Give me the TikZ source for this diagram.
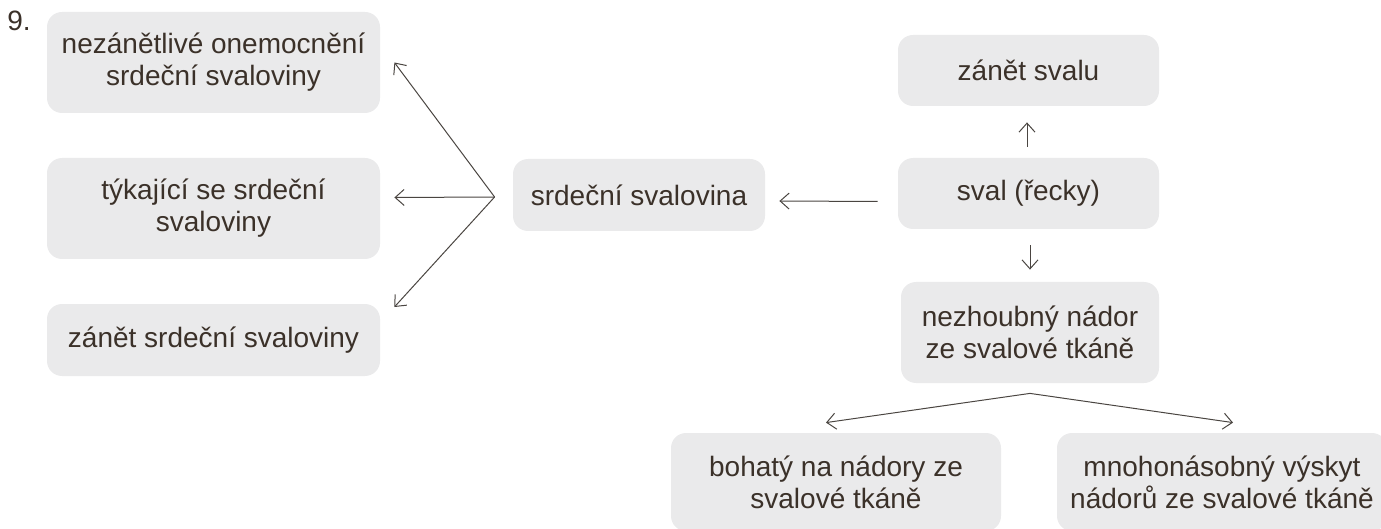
\documentclass[tikz,border=0pt]{standalone}
\usepackage{fontspec}
\setmainfont{Liberation Sans}
\usetikzlibrary{arrows.meta}
\definecolor{boxgray}{HTML}{EAEAEB}
\definecolor{inkbrown}{HTML}{3B3129}
\definecolor{arrowgray}{HTML}{4A4541}
\tikzset{
	x=0.5pt, y=-0.5pt,
	>={Straight Barb[length=4.5pt,width=8pt]}, % open thin heads
	term/.style={fill=boxgray, rounded corners=7.5pt, inner sep=0pt,
		align=center, text=inkbrown, font=\fontsize{14}{16}\selectfont},
	link/.style={->, draw=arrowgray, line width=0.5pt},
}
\begin{document}
\begin{tikzpicture}
	\useasboundingbox (0,0) rectangle (1381,529);
	\node[text=inkbrown, font=\fontsize{14}{16}\selectfont] (num) at (19,21) {9.};

	% left column
	\node[term, minimum width=166.5pt, minimum height=50.5pt] (a1) at (213.5,62.5) {nezánětlivé onemocnění\\srdeční svaloviny};
	\node[term, minimum width=166.5pt, minimum height=50.5pt] (a2) at (213.5,208.5) {týkající se srdeční\\svaloviny};
	\node[term, minimum width=166.5pt, minimum height=36pt] (a3) at (213.5,340) {zánět srdeční svaloviny};

	% middle and right
	\node[term, minimum width=126pt, minimum height=36pt] (b) at (639,195) {srdeční svalovina};
	\node[term, minimum width=130.5pt, minimum height=35.5pt] (c) at (1028.5,70.5) {zánět svalu};
	\node[term, minimum width=130.5pt, minimum height=35.5pt] (d) at (1028.5,193.5) {sval (řecky)};
	\node[term, minimum width=129pt, minimum height=50.5pt] (e) at (1030,332.5) {nezhoubný nádor\\ze svalové tkáně};
	\node[term, minimum width=165pt, minimum height=49pt] (f) at (836,482) {bohatý na nádory ze\\svalové tkáně};
	\node[term, minimum width=165pt, minimum height=49pt] (g) at (1222,482) {mnohonásobný výskyt\\nádorů ze svalové tkáně};

	\coordinate (fanb) at ([xshift=-9pt,yshift=-1pt]b.west);
	\coordinate (fane) at ([yshift=-5pt]e.south);

	\draw[link] (fanb) -- ([xshift=7pt]a1.east);
	\draw[link] (fanb) -- ([xshift=7pt,yshift=5.5pt]a2.east);
	\draw[link] (fanb) -- ([xshift=7pt,yshift=16.5pt]a3.east);
	\draw[link] ([xshift=-10pt,yshift=-4pt]d.west) -- ([xshift=7pt,yshift=-3pt]b.east);
	\draw[link] ([xshift=-0.75pt,yshift=5.5pt]d.north) -- ([xshift=-0.75pt,yshift=-8pt]c.south);
	\draw[link] ([xshift=0.75pt,yshift=-8pt]d.south) -- ([yshift=6pt]e.north);
	\draw[link] (fane) -- ([xshift=-5pt,yshift=5pt]f.north);
	\draw[link] (fane) -- ([xshift=5.5pt,yshift=5pt]g.north);
\end{tikzpicture}
\end{document}
